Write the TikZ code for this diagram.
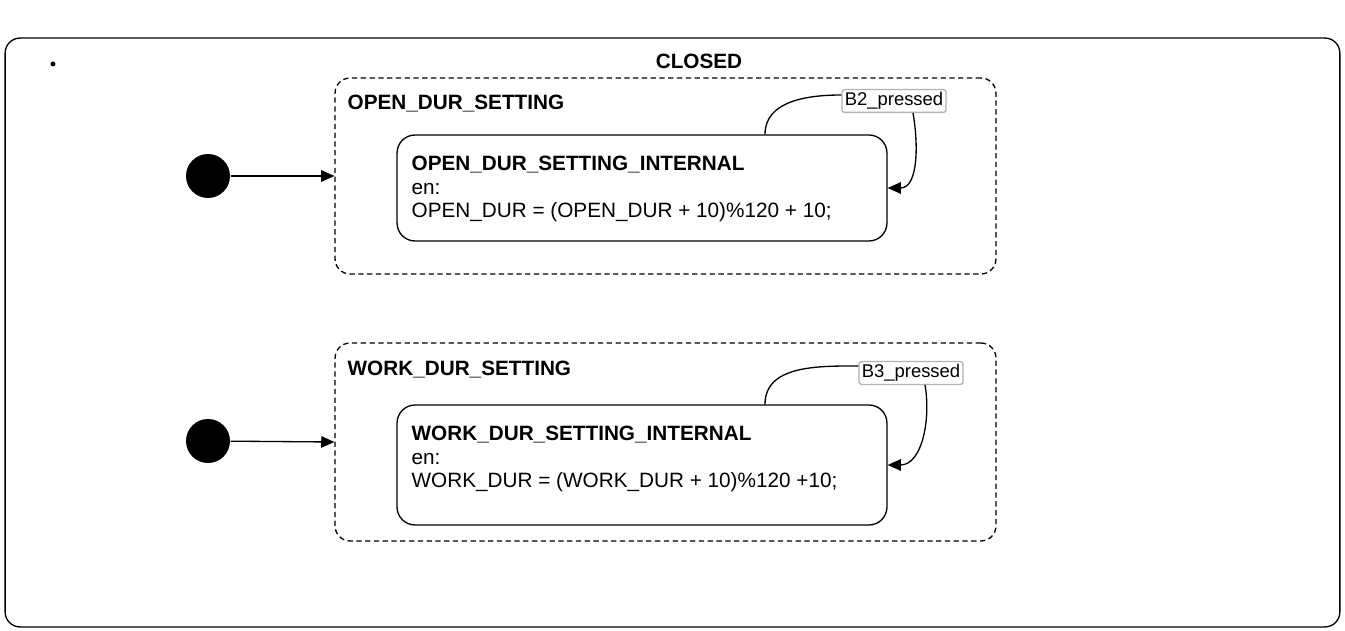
\documentclass[tikz,border=0pt]{standalone}
\usepackage{fontspec}
\setmainfont{Liberation Sans}
\usepackage{tikz}
\usetikzlibrary{arrows.meta,calc}

\begin{document}
\begin{tikzpicture}[x=0.02cm, y=-0.02cm, line width=0.75pt,
	every node/.style={font=\fontsize{11.8}{13.3}\selectfont},
	chartbox/.style={draw, rounded corners=0.3cm, inner sep=0pt},
	groupbox/.style={draw, dashed, dash pattern=on 3pt off 2pt, rounded corners=0.3cm, inner sep=0pt},
	statebox/.style={draw, rounded corners=0.36cm, inner sep=0pt},
	initdot/.style={fill, circle, inner sep=0pt, minimum size=0.88cm},
	trans/.style={-{Triangle[length=7.5pt,width=6.5pt]}},
	guard/.style={draw=black!30, fill=white, rounded corners=1.5pt, inner sep=1.6pt, font=\fontsize{10.5}{12}\selectfont},
	title/.style={font=\bfseries\fontsize{11.8}{13.3}\selectfont}]
	\useasboundingbox (0,0) rectangle (1345,631);
	% outer chart
	\node[chartbox, minimum width=26.7cm, minimum height=11.78cm] (closed) at (672.5,332.5) {};
	\fill (53,64) circle (2.5);
	\node[title] (closedname) at (699,61) {CLOSED};
	% open duration
	\node[groupbox, minimum width=13.22cm, minimum height=3.92cm] (ods) at (665.5,176) {};
	\node[title, anchor=west, inner sep=0pt] (odsname) at (347,104) {OPEN\_DUR\_SETTING};
	\node[statebox, minimum width=9.8cm, minimum height=2.12cm] (odsi) at (642,188) {};
	\node[anchor=west, align=left, inner sep=0pt] (odsitext) at (411,189) {\textbf{OPEN\_DUR\_SETTING\_INTERNAL}\\ en:\\ OPEN\_DUR = (OPEN\_DUR + 10)\%120 + 10;};
	\node[initdot] (init1) at (208,176) {};
	\draw[trans] (init1) -- (ods.west);
	\coordinate (s1) at ($(odsi.north)+(123,0)$);
	\node[guard] (b2) at (894,101) {B2\_pressed};
	\draw (s1) to[out=90,in=180] ([yshift=0.12cm]b2.west);
	\draw[trans] ($(b2.south)+(19,0)$) to[out=-80,in=0] (odsi.east);
	% work duration
	\node[groupbox, minimum width=13.22cm, minimum height=3.96cm] (wds) at (665.5,442) {};
	\node[title, anchor=west, inner sep=0pt] (wdsname) at (347,370) {WORK\_DUR\_SETTING};
	\node[statebox, minimum width=9.8cm, minimum height=2.4cm] (wdsi) at (642,465) {};
	\node[anchor=west, align=left, inner sep=0pt] (wdsitext) at (411,459) {\textbf{WORK\_DUR\_SETTING\_INTERNAL}\\ en:\\ WORK\_DUR = (WORK\_DUR + 10)\%120 +10;};
	\node[initdot] (init2) at (208,441) {};
	\draw[trans] (init2) -- (wds.west);
	\coordinate (s2) at ($(wdsi.north)+(123,0)$);
	\node[guard] (b3) at (911,373) {B3\_pressed};
	\draw (s2) to[out=90,in=180] ([yshift=0.14cm]b3.west);
	\draw[trans] ($(b3.south)+(14,0)$) to[out=-80,in=0] (wdsi.east);
\end{tikzpicture}
\end{document}
